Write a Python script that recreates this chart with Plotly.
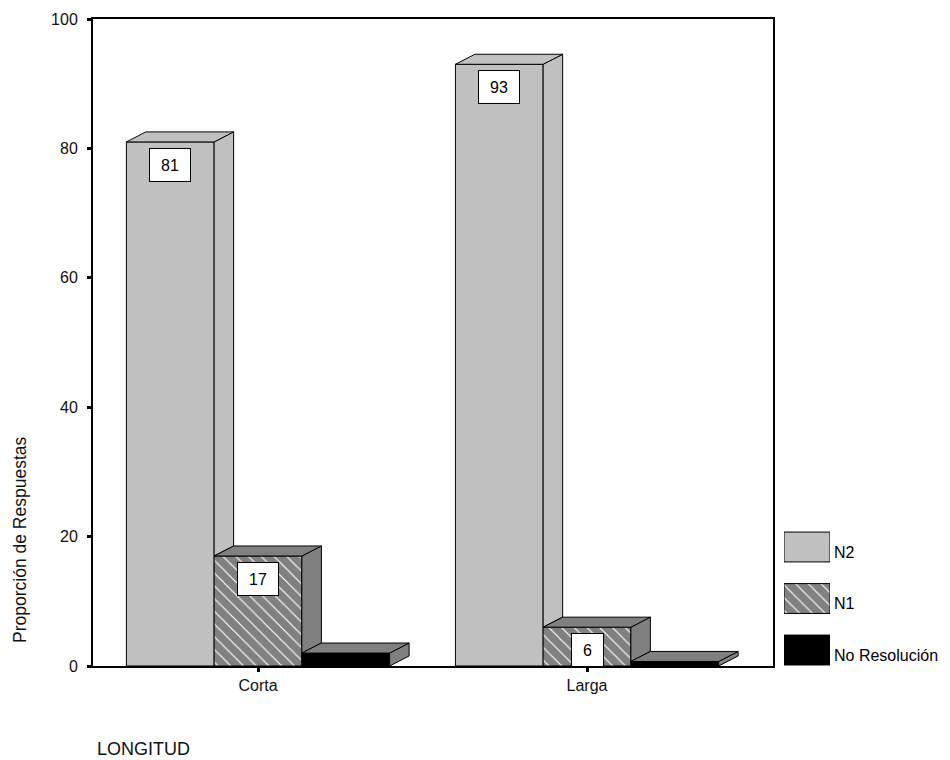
import plotly.graph_objects as go

# Data
categories = ["Corta", "Larga"]
series_names = ["N2", "N1", "No Resolución"]
n2_values = [81, 93]
n1_values = [17, 6]
no_res_values = [2, 0.7]
labelled_series = ["N2", "N1"]
y_ticks = [0, 20, 40, 60, 80, 100]

series_values = [n2_values, n1_values, no_res_values]

# Styling
FRONT = {"N2": "#c0c0c0", "N1": "#808080", "No Resolución": "#000000"}
FACE = {"N2": "#c0c0c0", "N1": "#808080", "No Resolución": "#808080"}
HATCHED = {"N1"}
FONT = "Liberation Sans, Arial, sans-serif"
BAR_W = 0.8 / 3      # width of one bar in category units
DX = 0.0593          # 3D depth offset along x (category units)
DY = 1.55            # 3D depth offset along y (value units)

W, H = 950, 760
ML, MR, MT, MB = 93, 0, 19, 94
PW, PH = W - ML - MR, H - MT - MB
PLOT_RIGHT = 773


def marker_for(name):
    m = dict(color=FRONT[name], line=dict(color="black", width=1))
    if name in HATCHED:
        m["pattern"] = dict(shape="\\", fgcolor="white", bgcolor=FRONT[name],
                            fgopacity=1, size=9, solidity=0.13, fillmode="replace")
    return m


fig = go.Figure()
cat_pos = list(range(len(categories)))

# front faces
for j, (name, vals) in enumerate(zip(series_names, series_values)):
    xs = [c + (j - 1) * BAR_W for c in cat_pos]
    fig.add_trace(go.Bar(x=xs, y=vals, width=BAR_W, marker=marker_for(name),
                         showlegend=False, hoverinfo="skip"))

# side and top faces, drawn left to right so nearer faces cover farther ones
for j, (name, vals) in enumerate(zip(series_names, series_values)):
    side_x, side_y, top_x, top_y = [], [], [], []
    for i, c in enumerate(cat_pos):
        v = vals[i]
        x0 = c + (j - 1) * BAR_W - BAR_W / 2
        x1 = x0 + BAR_W
        nxt = series_values[j + 1][i] if j + 1 < len(series_values) else 0
        if nxt < v:
            side_x += [x1, x1, x1 + DX, x1 + DX, x1, None]
            side_y += [nxt, v, v + DY, nxt + DY, nxt, None]
        top_x += [x0, x1, x1 + DX, x0 + DX, x0, None]
        top_y += [v, v, v + DY, v + DY, v, None]
    for px, py in ((side_x, side_y), (top_x, top_y)):
        fig.add_trace(go.Scatter(x=px, y=py, mode="lines", fill="toself",
                                 fillcolor=FACE[name],
                                 line=dict(color="black", width=1),
                                 showlegend=False, hoverinfo="skip"))

# value labels
for j, (name, vals) in enumerate(zip(series_names, series_values)):
    if name not in labelled_series:
        continue
    for i, c in enumerate(cat_pos):
        txt = f"{vals[i]:g}"
        fig.add_annotation(x=c + (j - 1) * BAR_W, y=vals[i], xref="x", yref="y",
                           text=txt, showarrow=False, yanchor="top", yshift=-6,
                           bgcolor="white", bordercolor="black", borderwidth=1,
                           borderpad=6, width=9 * len(txt) + 10, height=20,
                           font=dict(family=FONT, size=16, color="black"))

# legend swatches
for k, name in enumerate(series_names):
    pos = len(series_names) - 1 - k
    fig.add_trace(go.Bar(x=[1], y=[pos], base=0, orientation="h", width=0.58,
                         marker=marker_for(name), xaxis="x2", yaxis="y2",
                         showlegend=False, hoverinfo="skip"))
    fig.add_annotation(x=1, y=pos, xref="x2", yref="y2", text=name,
                       showarrow=False, xanchor="left", xshift=2, yshift=-5,
                       font=dict(family=FONT, size=16, color="black"))

axis_common = dict(showline=True, linecolor="black", linewidth=2, mirror=True,
                   ticks="outside", ticklen=4, tickwidth=3, tickcolor="black",
                   showgrid=False, zeroline=False, automargin=False,
                   tickfont=dict(family=FONT, size=16, color="#111"))

fig.update_layout(
    width=W, height=H,
    margin=dict(l=ML, r=MR, t=MT, b=MB),
    paper_bgcolor="white", plot_bgcolor="white",
    barmode="overlay", showlegend=False,
    xaxis=dict(domain=[0, (PLOT_RIGHT - ML) / PW], range=[-0.5015, 1.5653],
               tickvals=cat_pos, ticktext=categories, **axis_common),
    yaxis=dict(range=[0, 100], tickvals=y_ticks, ticklabelstandoff=6, **axis_common),
    xaxis2=dict(domain=[(784 - ML) / PW, (830 - ML) / PW], range=[0, 1],
                visible=False, anchor="y2"),
    yaxis2=dict(domain=[0, (666 - 521.25) / PH], range=[-0.31, 2.5],
                visible=False, anchor="x2"),
)

fig.add_annotation(text="Proporción de Respuestas", textangle=-90,
                   xref="paper", yref="paper", x=(20 - ML) / PW, y=(666 - 540) / PH,
                   showarrow=False, xanchor="center", yanchor="middle",
                   font=dict(family=FONT, size=17.5, color="#111"))
fig.add_annotation(text="LONGITUD", xref="paper", yref="paper",
                   x=(95 - ML) / PW, y=(666 - 749) / PH, showarrow=False,
                   xanchor="left", yanchor="middle",
                   font=dict(family=FONT, size=18, color="#111"))

fig.write_html("out.html")
